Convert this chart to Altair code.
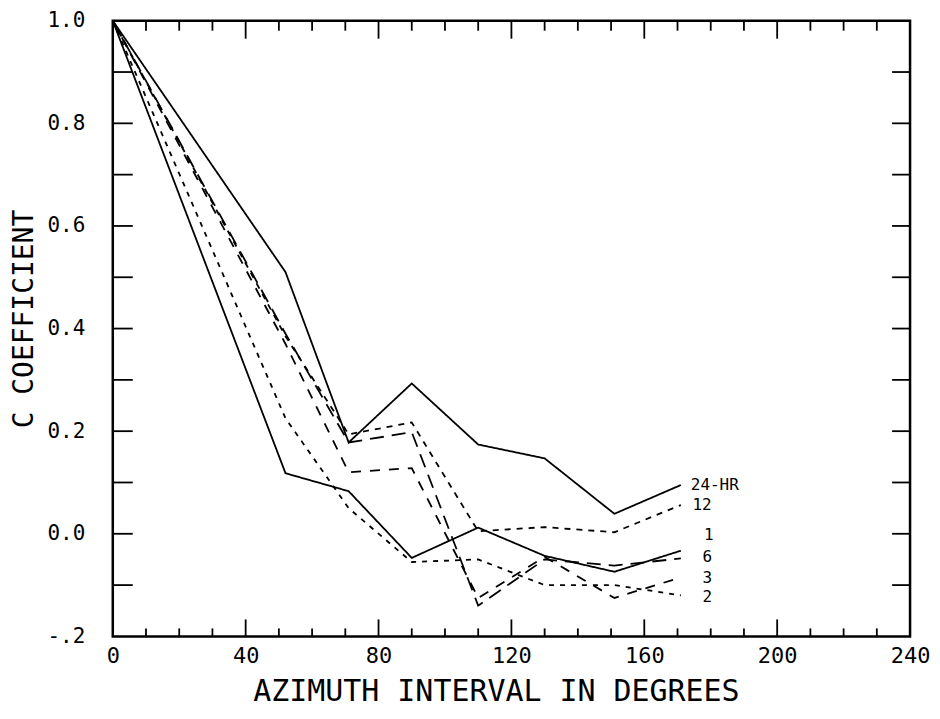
import altair as alt
import pandas as pd

# ---- data ----
azimuth = [0, 52, 71, 90, 110, 130, 151, 171]
series = ["24-HR", "12", "1", "6", "3", "2"]
c_24hr = [1.0, 0.51, 0.178, 0.293, 0.174, 0.147, 0.039, 0.095]
c_12 = [1.0, 0.385, 0.194, 0.217, 0.005, 0.013, 0.003, 0.056]
c_1 = [1.0, 0.118, 0.083, -0.047, 0.012, -0.043, -0.074, -0.033]
c_6 = [1.0, 0.39, 0.178, 0.198, -0.14, -0.05, -0.062, -0.048]
c_3 = [1.0, 0.37, 0.12, 0.128, -0.125, -0.045, -0.125, -0.085]
c_2 = [1.0, 0.225, 0.05, -0.055, -0.05, -0.10, -0.10, -0.12]
dashes = [[1, 0], [6, 6], [1, 0], [14, 8], [10, 9], [5, 6]]

label_x = [174, 174.5, 178, 177.5, 177.5, 177.5]
label_y = [0.095, 0.056, -0.002, -0.046, -0.086, -0.124]

x_label_values = [0, 40, 80, 120, 160, 200, 240]
x_major_ticks = [40, 80, 120, 160, 200]
x_minor_ticks = [10, 20, 30, 50, 60, 70, 90, 100, 110, 130, 140, 150, 170, 180, 190, 210, 220, 230]
y_label_values = [-0.2, 0.0, 0.2, 0.4, 0.6, 0.8, 1.0]
y_ticks = [-0.1, 0.0, 0.1, 0.2, 0.3, 0.4, 0.5, 0.6, 0.7, 0.8, 0.9]

X_TITLE = "AZIMUTH INTERVAL IN DEGREES"
Y_TITLE = "C COEFFICIENT"

W, H = 799, 617
FONT = "DejaVu Sans Mono"

rows = []
for name, vals in zip(series, [c_24hr, c_12, c_1, c_6, c_3, c_2]):
    for a, v in zip(azimuth, vals):
        rows.append({"series": name, "azimuth": a, "c": v})
df = pd.DataFrame(rows)
labels_df = pd.DataFrame({"lx": label_x, "ly": label_y, "text": series})

xs = alt.Scale(domain=[0, 240], nice=False, zero=False)
ys = alt.Scale(domain=[-0.2, 1.0], nice=False, zero=False)

x_axis = alt.Axis(
    values=x_label_values, format="d", labelFont=FONT, labelFontSize=22,
    labelPadding=9, labelFlush=False, labelOverlap=False, ticks=False,
    domain=False, grid=False, labelColor="black",
    titleFont=FONT, titleFontSize=30,
    titleFontWeight="normal", titleColor="black", titleX=384, titleY=55,
    titleAlign="center", titleBaseline="middle")
y_axis = alt.Axis(
    values=y_label_values,
    labelExpr="datum.value < -0.15 ? '-.2' : format(datum.value, '.1f')",
    labelFont=FONT, labelFontSize=21, labelPadding=28, labelOverlap=False,
    ticks=False, domain=False, grid=False, labelColor="black",
    titleFont=FONT, titleFontSize=28,
    titleFontWeight="normal", titleColor="black", titleAngle=270,
    titleX=-88, titleY=H / 2 - 10, titleAlign="center", titleBaseline="middle")


def xenc(field):
    return alt.X(field, scale=xs, axis=x_axis, title=X_TITLE)


def yenc(field):
    return alt.Y(field, scale=ys, axis=y_axis, title=Y_TITLE)


lines = alt.Chart(df).mark_line(color="black", strokeWidth=1.8).encode(
    x=xenc("azimuth:Q"),
    y=yenc("c:Q"),
    strokeDash=alt.StrokeDash("series:N", scale=alt.Scale(domain=series, range=dashes), legend=None),
    order=alt.Order("azimuth:Q"),
)

texts = alt.Chart(labels_df).mark_text(
    align="left", baseline="middle", font=FONT, fontSize=16, color="black"
).encode(
    x=xenc("lx:Q"),
    y=yenc("ly:Q"),
    text="text:N",
)

xmaj = pd.DataFrame({"v": x_major_ticks})
xmin = pd.DataFrame({"v": x_minor_ticks})
yt = pd.DataFrame({"v": y_ticks})


def rule(data):
    return alt.Chart(data).mark_rule(color="black", strokeWidth=1.8)


bottom_major = rule(xmaj).encode(x=xenc("v:Q"), y=alt.value(H), y2=alt.value(H - 17))
bottom_minor = rule(xmin).encode(x=xenc("v:Q"), y=alt.value(H), y2=alt.value(H - 8))
top_major = rule(xmaj).encode(x=xenc("v:Q"), y=alt.value(0), y2=alt.value(18))
top_minor = rule(xmin).encode(x=xenc("v:Q"), y=alt.value(0), y2=alt.value(10))
left_ticks = rule(yt).encode(y=yenc("v:Q"), x=alt.value(0), x2=alt.value(20))
right_ticks = rule(yt).encode(y=yenc("v:Q"), x=alt.value(W), x2=alt.value(W - 18))

chart = alt.layer(
    lines, texts, bottom_major, bottom_minor, top_major, top_minor, left_ticks, right_ticks
).properties(
    width=W, height=H,
    autosize=alt.AutoSizeParams(type="none"),
    padding={"left": 105, "top": 12, "right": 22, "bottom": 70},
    background="white",
).configure_view(
    stroke="black", strokeWidth=2.5
)

chart.save("out.html", embed_options={"renderer": "svg", "actions": False})
